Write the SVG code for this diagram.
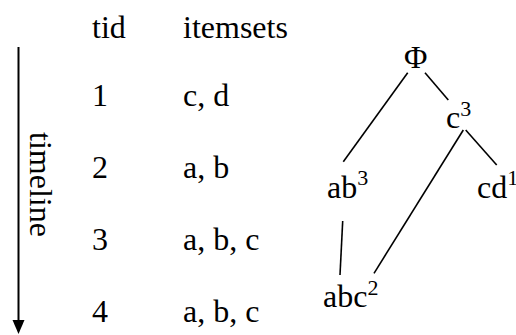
<svg xmlns="http://www.w3.org/2000/svg" width="516" height="335" viewBox="0 0 516 335">
<style>
text{font-family:'Liberation Serif','DejaVu Serif',Times,serif;font-size:32px;fill:#000}
.sup{font-size:22px}
.edge{stroke:#000;stroke-width:1.6;fill:none}
</style>
<rect width="516" height="335" fill="#fff"/>
<g id="table">
<text x="92" y="38">tid</text>
<text x="183" y="38">itemsets</text>
<text x="92" y="106">1</text><text x="183" y="106">c, d</text>
<text x="92" y="178">2</text><text x="183" y="178">a, b</text>
<text x="92" y="250">3</text><text x="183" y="250">a, b, c</text>
<text x="92" y="322">4</text><text x="183" y="322">a, b, c</text>
</g>
<g id="timeline">
<line x1="18.5" y1="47" x2="18.5" y2="321" stroke="#000" stroke-width="2"/>
<polygon points="12.5,320 24.5,320 18.5,334" fill="#000"/>
<text transform="translate(30,132) rotate(90)">timeline</text>
</g>
<g id="connectors">
<line class="edge" x1="407.7" y1="72.7" x2="343.3" y2="161.7"/>
<line class="edge" x1="425" y1="72.7" x2="448.3" y2="100"/>
<line class="edge" x1="465.7" y1="130" x2="496.7" y2="165"/>
<line class="edge" x1="463.3" y1="130" x2="374" y2="273.3"/>
<line class="edge" x1="342.7" y1="221" x2="340" y2="275"/>
</g>
<g id="n-phi"><text x="404" y="68">Φ</text></g>
<g id="n-c"><text x="446" y="128">c<tspan class="sup" dy="-12">3</tspan></text></g>
<g id="n-ab"><text x="327" y="198">ab<tspan class="sup" dy="-13">3</tspan></text></g>
<g id="n-cd"><text x="477" y="198">cd<tspan class="sup" dy="-13">1</tspan></text></g>
<g id="n-abc"><text x="323" y="307">abc<tspan class="sup" dy="-12">2</tspan></text></g>
</svg>
